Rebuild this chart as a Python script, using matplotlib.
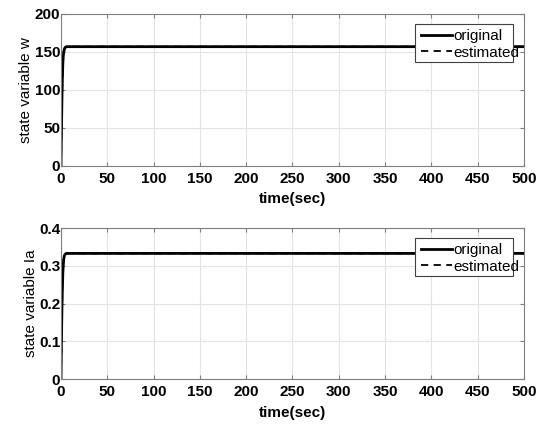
import numpy as np
import matplotlib
matplotlib.use('Agg')
import matplotlib.pyplot as plt
from matplotlib.patches import Rectangle

plt.rcParams['font.family'] = ['Liberation Sans', 'DejaVu Sans']

# state trajectories (original vs observer estimate)
t = [0, 0.5, 1.0, 1.5, 2.0, 2.5, 3.0, 3.5, 4.0, 5.0, 6.0, 8.0, 500]
w_orig = [0, 45, 85, 115, 135, 145, 150, 153, 155, 156.5, 157, 157, 157]
w_est = [0, 44, 84, 114, 134, 144, 149.5, 152.5, 154.5, 156, 156.8, 157, 157]
ia_orig = [0, 0.10, 0.18, 0.24, 0.28, 0.305, 0.318, 0.325, 0.329, 0.332, 0.333, 0.333, 0.333]
ia_est = [0, 0.098, 0.178, 0.238, 0.278, 0.303, 0.317, 0.324, 0.328, 0.331, 0.333, 0.333, 0.333]

x_ticks = [0, 50, 100, 150, 200, 250, 300, 350, 400, 450, 500]
w_ticks = [0, 50, 100, 150, 200]
ia_ticks = [0, 0.1, 0.2, 0.3, 0.4]
ia_labels = ['0', '0.1', '0.2', '0.3', '0.4']

fig = plt.figure(figsize=(5.42, 4.24), dpi=100)
ax1 = fig.add_axes([0.1125, 0.6085, 0.854, 0.3585])
ax2 = fig.add_axes([0.1125, 0.106, 0.854, 0.356])

panels = [
    (ax1, w_orig, w_est, w_ticks, [str(v) for v in w_ticks], (0, 200), 'state variable w'),
    (ax2, ia_orig, ia_est, ia_ticks, ia_labels, (0, 0.4), 'state variable Ia'),
]

for ax, y_o, y_e, yt, ytl, ylim, ylab in panels:
    ax.plot(t, y_o, color='black', lw=2.0, label='original')
    ax.plot(t, y_e, color='black', lw=1.3, ls=(0, (4, 3)), label='estimated')
    ax.set_xlim(0, 500)
    ax.set_ylim(*ylim)
    ax.set_xticks(x_ticks)
    ax.set_xticklabels([str(v) for v in x_ticks], fontweight='bold', fontsize=11)
    ax.set_yticks(yt)
    ax.set_yticklabels(ytl, fontweight='bold', fontsize=11)
    ax.tick_params(direction='in', top=True, right=True, length=3,
                   color='#7f7f7f')
    ax.tick_params(axis='x', pad=4)
    ax.tick_params(axis='y', pad=0.5)
    ax.grid(color='#e3e3e3', lw=0.8)
    for s in ax.spines.values():
        s.set_color('#7f7f7f')
        s.set_linewidth(0.8)
    ax.set_xlabel('time(sec)', fontweight='bold', fontsize=11, labelpad=5)
    ax.set_ylabel(ylab, fontsize=11, labelpad=1)

    # legend box is a fixed-size frame; the long label spills past it
    box = Rectangle((0.7646, 0.684), 0.2116, 0.25, transform=ax.transAxes,
                    facecolor='white', edgecolor='#404040', lw=0.8, zorder=4)
    ax.add_patch(box)
    ax.legend(loc='upper left', bbox_to_anchor=(0.7646, 0.94),
              fontsize=11, handlelength=2.0, handletextpad=0.13,
              borderpad=0.4, labelspacing=0.15, borderaxespad=0,
              frameon=False)

fig.savefig('out.png', dpi=100)
